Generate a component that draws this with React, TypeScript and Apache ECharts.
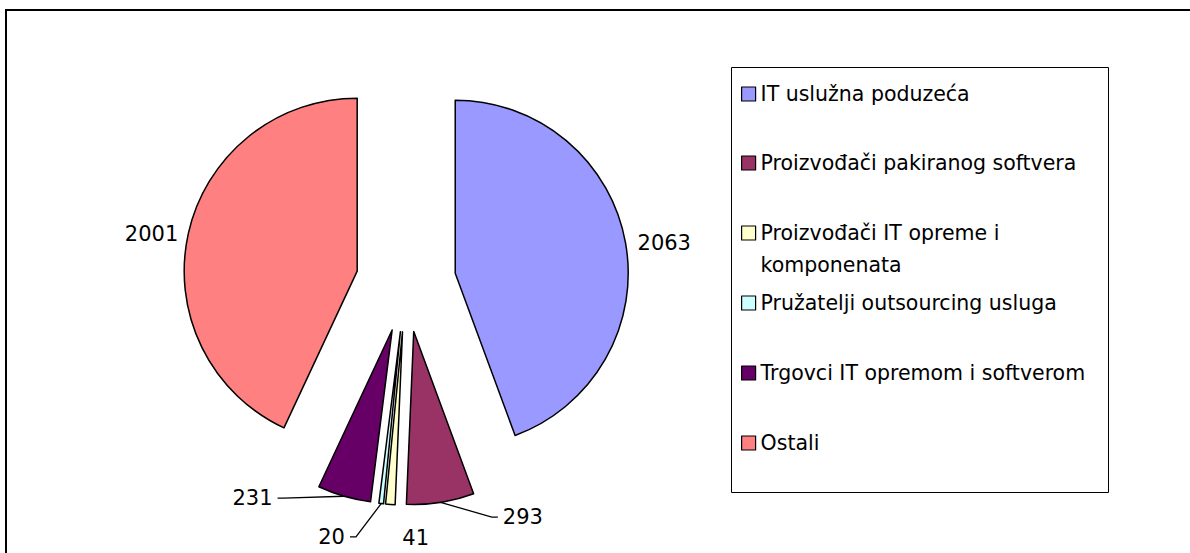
import React, { useEffect, useRef } from 'react';
import * as echarts from 'echarts';

const categories = [
  'IT uslužna poduzeća',
  'Proizvođači pakiranog softvera',
  'Proizvođači IT opreme i komponenata',
  'Pružatelji outsourcing usluga',
  'Trgovci IT opremom i softverom',
  'Ostali',
];
const values = [2063, 293, 41, 20, 231, 2001];
const legendTexts = [
  'IT uslužna poduzeća',
  'Proizvođači pakiranog softvera',
  '\nProizvođači IT opreme i\nkomponenata',
  'Pružatelji outsourcing usluga',
  'Trgovci IT opremom i softverom',
  'Ostali',
];
const colors = ['#9999FF', '#993366', '#FFFFCC', '#CCFFFF', '#660066', '#FF8080'];

// label line styling per slice
const labelLineStyles = [
  { show: false, length: 0, length2: 7, invisible: false },
  { show: true, length: 15, length2: 55, invisible: false },
  { show: true, length: 33.5, length2: 0, invisible: true },
  { show: true, length: 33.5, length2: 27.5, invisible: false },
  { show: true, length: 2, length2: 66, invisible: false },
  { show: false, length: 0, length2: 5, invisible: false },
];
const legendRowCenters = [94, 163, 233, 303, 373, 443];

const FONT = 'DejaVu Sans';

export default function App() {
  const ref = useRef<HTMLDivElement>(null);
  useEffect(() => {
    if (!ref.current) return;
    const chart = echarts.init(ref.current, null, { renderer: 'svg' });

    const data = categories.map((name, i) => {
      const ll = labelLineStyles[i];
      return {
        name,
        value: values[i],
        selected: true,
        itemStyle: { color: colors[i], borderColor: '#000', borderWidth: 1.5 },
        select: { itemStyle: { color: colors[i], borderColor: '#000', borderWidth: 1.5 } },
        labelLine: {
          show: ll.show,
          length: ll.length,
          length2: ll.length2,
          lineStyle: { color: '#000', width: 1.3, opacity: ll.invisible ? 0 : 1 },
        },
      };
    });

    const legends = categories.map((name, i) => {
      const lines = legendTexts[i].split('\n').length;
      const lh = lines > 1 ? 32 : 24;
      const half = (lines * lh) / 2;
      return {
        data: [name],
        left: 741,
        top: legendRowCenters[i] - half,
        orient: 'vertical',
        icon: 'rect',
        itemWidth: 14,
        itemHeight: 14,
        itemGap: 0,
        padding: 0,
        selectedMode: false,
        itemStyle: { borderColor: '#000', borderWidth: 1.2 },
        formatter: () => legendTexts[i],
        textStyle: {
          fontFamily: FONT,
          fontSize: 20.5,
          color: '#000',
          lineHeight: lh,
        },
      };
    });

    chart.setOption({
      animation: false,
      backgroundColor: '#fff',
      color: colors,
      legend: legends,
      graphic: [
        {
          type: 'rect',
          shape: { x: 6, y: 10, width: 1200, height: 560 },
          style: { fill: 'none', stroke: '#000', lineWidth: 2 },
          silent: true,
        },
        {
          type: 'rect',
          shape: { x: 731.5, y: 67.5, width: 377, height: 425 },
          style: { fill: 'none', stroke: '#000', lineWidth: 1 },
          silent: true,
        },
      ],
      series: [
        {
          type: 'pie',
          center: [406, 282],
          radius: 173,
          startAngle: 90,
          clockwise: true,
          selectedMode: 'multiple',
          selectedOffset: 50,
          avoidLabelOverlap: false,
          emphasis: { disabled: true },
          label: {
            show: true,
            position: 'outside',
            formatter: '{c}',
            fontFamily: FONT,
            fontSize: 21,
            color: '#000',
            distanceToLabelLine: 5,
          },
          labelLine: { lineStyle: { color: '#000', width: 1.3 } },
          labelLayout: (params: any) => {
            const pts = params.labelLinePoints;
            if (!pts || pts.length < 3) return {};
            const p0 = pts[0];
            const p2 = pts[2];
            if (params.dataIndex === 2) {
              return { dx: p0[0] + 12 - (p2[0] - 5), align: 'left' };
            }
            const sign = p2[0] >= p0[0] ? 1 : -1;
            return { labelLinePoints: [p0, [p2[0] - sign * 6, p2[1]], p2] };
          },
          data,
        },
      ],
    });
    return () => chart.dispose();
  }, []);
  return (
    <div
      ref={ref}
      style={{ position: 'absolute', left: 0, top: 0, width: 1190, height: 553 }}
    />
  );
}
